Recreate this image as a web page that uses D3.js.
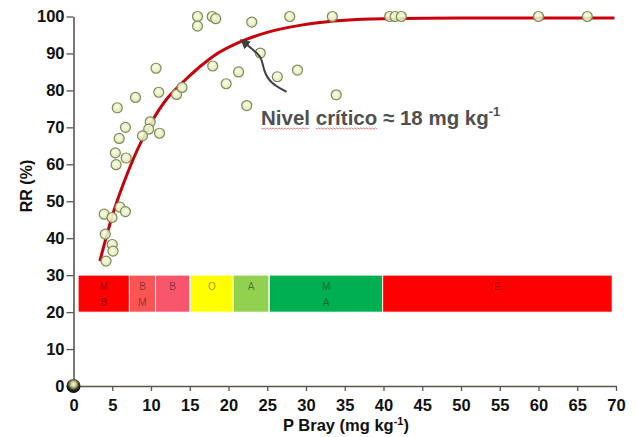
<html>
<head>
<script src="https://d3js.org/d3.v7.min.js"></script>
<style>
  body { margin: 0; background: #fff; }
  text { font-family: "Liberation Sans", Arial, sans-serif; }
</style>
</head>
<body>
<div id="chart"></div>
<script>
// observed points: P Bray (mg/kg) and relative yield RR (%)
var pBray = [16.0, 16.0, 17.9, 18.35, 23.0, 27.9, 10.65, 17.96, 21.3, 19.7, 24.1, 26.3, 28.9, 22.35,
             8.0, 11.0, 13.3, 14.0, 5.65, 6.7, 5.9, 9.9, 9.7, 8.9, 11.1, 5.4, 5.5, 6.8,
             6.0, 6.7, 3.96, 4.97, 4.1, 5.0, 5.1, 4.2, 33.4, 40.8, 41.5, 42.3, 60.0, 66.3, 33.9];
var rr    = [100, 97.4, 100, 99.4, 98.5, 100, 86.0, 86.6, 85.0, 81.8, 90.1, 83.7, 85.5, 75.9,
             78.1, 79.5, 78.9, 80.8, 75.3, 70.0, 67.0, 71.5, 69.5, 67.7, 68.4, 63.1, 59.9, 61.7,
             48.4, 47.2, 46.5, 45.6, 41.1, 38.3, 36.5, 33.8, 100, 100, 100, 100, 100, 100, 78.8];

// fitted response curve
var curveX = [3.4, 5.1, 7, 9.9, 12, 14, 16.3, 18, 21.5, 25, 29.2, 31.8, 35, 40, 50, 69.8];
var curveY = [33.8, 46.7, 57.8, 70.8, 77.6, 82.0, 86.4, 89.2, 93.1, 95.7, 97.6, 98.4, 99.0, 99.4, 99.6, 99.6];

// interpretation classes (band from RR 20 to 30)
var bandStart = [0.6, 7.2, 10.6, 15.1, 20.6, 25.3, 39.9];
var bandEnd   = [7.2, 10.6, 15.0, 20.6, 25.2, 39.9, 69.5];
var bandText  = [["M", "B"], ["B", "M"], ["B"], ["O"], ["A"], ["M", "A"], ["E"]];
var bandColor = ["#ff0000", "#fb5454", "#f8566c", "#ffff00", "#92d050", "#00b050", "#ff0000"];

var xTicks = d3.range(0, 71, 5);
var yTicks = d3.range(0, 101, 10);

// arrow of the annotation
var arrowX = [27.5, 25.4, 24.5, 24.3, 23.2, 21.9];
var arrowY = [79.6, 81.9, 85.5, 89.1, 90.9, 93.2];

var width = 637, height = 437;
var svg = d3.select("#chart").append("svg").attr("width", width).attr("height", height);

var x = d3.scaleLinear().domain([0, 70]).range([73.5, 616]);
var y = d3.scaleLinear().domain([0, 100]).range([386, 16.5]);

var defs = svg.append("defs");
var g1 = defs.append("radialGradient").attr("id", "dot").attr("cx", "45%").attr("cy", "40%").attr("r", "60%");
g1.append("stop").attr("offset", "0%").attr("stop-color", "#fbfde9");
g1.append("stop").attr("offset", "100%").attr("stop-color", "#d9e6a6");
var g2 = defs.append("radialGradient").attr("id", "origin").attr("cx", "50%").attr("cy", "38%").attr("r", "55%");
g2.append("stop").attr("offset", "0%").attr("stop-color", "#f6f6d0");
g2.append("stop").attr("offset", "35%").attr("stop-color", "#c9c98e");
g2.append("stop").attr("offset", "75%").attr("stop-color", "#2a2a20");
g2.append("stop").attr("offset", "100%").attr("stop-color", "#0d0d0d");
defs.append("marker").attr("id", "head").attr("viewBox", "0 0 10 10").attr("refX", 6).attr("refY", 5)
  .attr("markerWidth", 5).attr("markerHeight", 5).attr("orient", "auto")
  .append("path").attr("d", "M0,0 L10,5 L0,10 z").attr("fill", "#404040");

// bands
var bands = svg.append("g");
bands.selectAll("rect").data(bandStart).enter().append("rect")
  .attr("x", function(d) { return x(d); })
  .attr("y", y(30))
  .attr("width", function(d, i) { return x(bandEnd[i]) - x(d); })
  .attr("height", y(20) - y(30))
  .attr("fill", function(d, i) { return bandColor[i]; })
  .attr("stroke", "#fff").attr("stroke-width", 0.8);
bandText.forEach(function(lines, i) {
  var cx = (x(bandStart[i]) + x(bandEnd[i])) / 2;
  lines.forEach(function(t, j) {
    bands.append("text").attr("x", cx).attr("y", y(30) + 15 + j * 16)
      .attr("text-anchor", "middle").attr("font-size", 10)
      .attr("fill", "#000").attr("fill-opacity", 0.45).text(t);
  });
});

// axes
var axisColor = "#5a564e";
var xAxis = svg.append("g").attr("transform", "translate(0," + y(0) + ")")
  .call(d3.axisBottom(x).tickValues(xTicks).tickSize(5).tickPadding(8).tickSizeOuter(0));
var yAxis = svg.append("g").attr("transform", "translate(" + x(0) + ",0)")
  .call(d3.axisLeft(y).tickValues(yTicks).tickSize(6).tickPadding(3).tickSizeOuter(0));
[xAxis, yAxis].forEach(function(a) {
  a.select(".domain").attr("stroke", axisColor).attr("stroke-width", 1.6);
  a.selectAll(".tick line").attr("stroke", axisColor).attr("stroke-width", 1.3);
  a.selectAll("text").attr("font-size", 16.5).attr("font-weight", "bold").attr("fill", "#111")
    .attr("font-family", "Liberation Sans, Arial, sans-serif");
});
yAxis.selectAll(".tick line").attr("x2", -7);

// fitted curve
var line = d3.line().x(function(d) { return x(d[0]); }).y(function(d) { return y(d[1]); }).curve(d3.curveMonotoneX);
svg.append("path").datum(d3.zip(curveX, curveY)).attr("d", line)
  .attr("fill", "none").attr("stroke", "#c8000c").attr("stroke-width", 3);

// points
svg.append("g").selectAll("circle").data(d3.zip(pBray, rr)).enter().append("circle")
  .attr("cx", function(d) { return x(d[0]); })
  .attr("cy", function(d) { return y(d[1]); })
  .attr("r", 5)
  .attr("fill", "url(#dot)").attr("fill-opacity", 0.9)
  .attr("stroke", "#7d8a5c").attr("stroke-width", 1.2);
svg.append("circle").attr("cx", x(0)).attr("cy", y(0)).attr("r", 7).attr("fill", "url(#origin)");

// annotation
var arrowLine = d3.line().x(function(d) { return x(d[0]); }).y(function(d) { return y(d[1]); }).curve(d3.curveBasis);
svg.append("path").datum(d3.zip(arrowX, arrowY)).attr("d", arrowLine)
  .attr("fill", "none").attr("stroke", "#404040").attr("stroke-width", 2)
  .attr("marker-end", "url(#head)");

var note = svg.append("text").attr("x", x(24.2)).attr("y", y(70.6))
  .attr("font-family", "Lato, Carlito, sans-serif").attr("font-weight", "bold")
  .attr("font-size", 20.5).attr("fill", "#505050");
note.append("tspan").text("Nivel crítico ≈ 18 mg kg");
note.append("tspan").attr("font-size", 13).attr("dy", -9).text("-1");

var node = note.node();
function squiggle(from, to) {
  var x0 = x(24.2) + node.getSubStringLength(0, from);
  var x1 = x(24.2) + node.getSubStringLength(0, to);
  var yy = y(70.6) + 3;
  var pts = [];
  for (var p = x0, k = 0; p <= x1; p += 1.5, k++) pts.push([p, yy + (k % 2 ? 1 : -0.2)]);
  svg.append("path").attr("d", d3.line()(pts)).attr("fill", "none")
    .attr("stroke", "#e06060").attr("stroke-width", 0.8);
}
squiggle(0, 5);
squiggle(6, 13);

// axis titles
svg.append("text").attr("transform", "translate(32,186) rotate(-90)")
  .attr("text-anchor", "middle").attr("font-size", 16).attr("font-weight", "bold").attr("fill", "#111")
  .text("RR (%)");
var xt = svg.append("text").attr("x", 346).attr("y", 431)
  .attr("text-anchor", "middle").attr("font-size", 16.5).attr("font-weight", "bold").attr("fill", "#111");
xt.append("tspan").text("P Bray (mg kg");
xt.append("tspan").attr("font-size", 11).attr("dy", -6).text("-1");
xt.append("tspan").attr("dy", 6).text(")");
</script>
</body>
</html>
